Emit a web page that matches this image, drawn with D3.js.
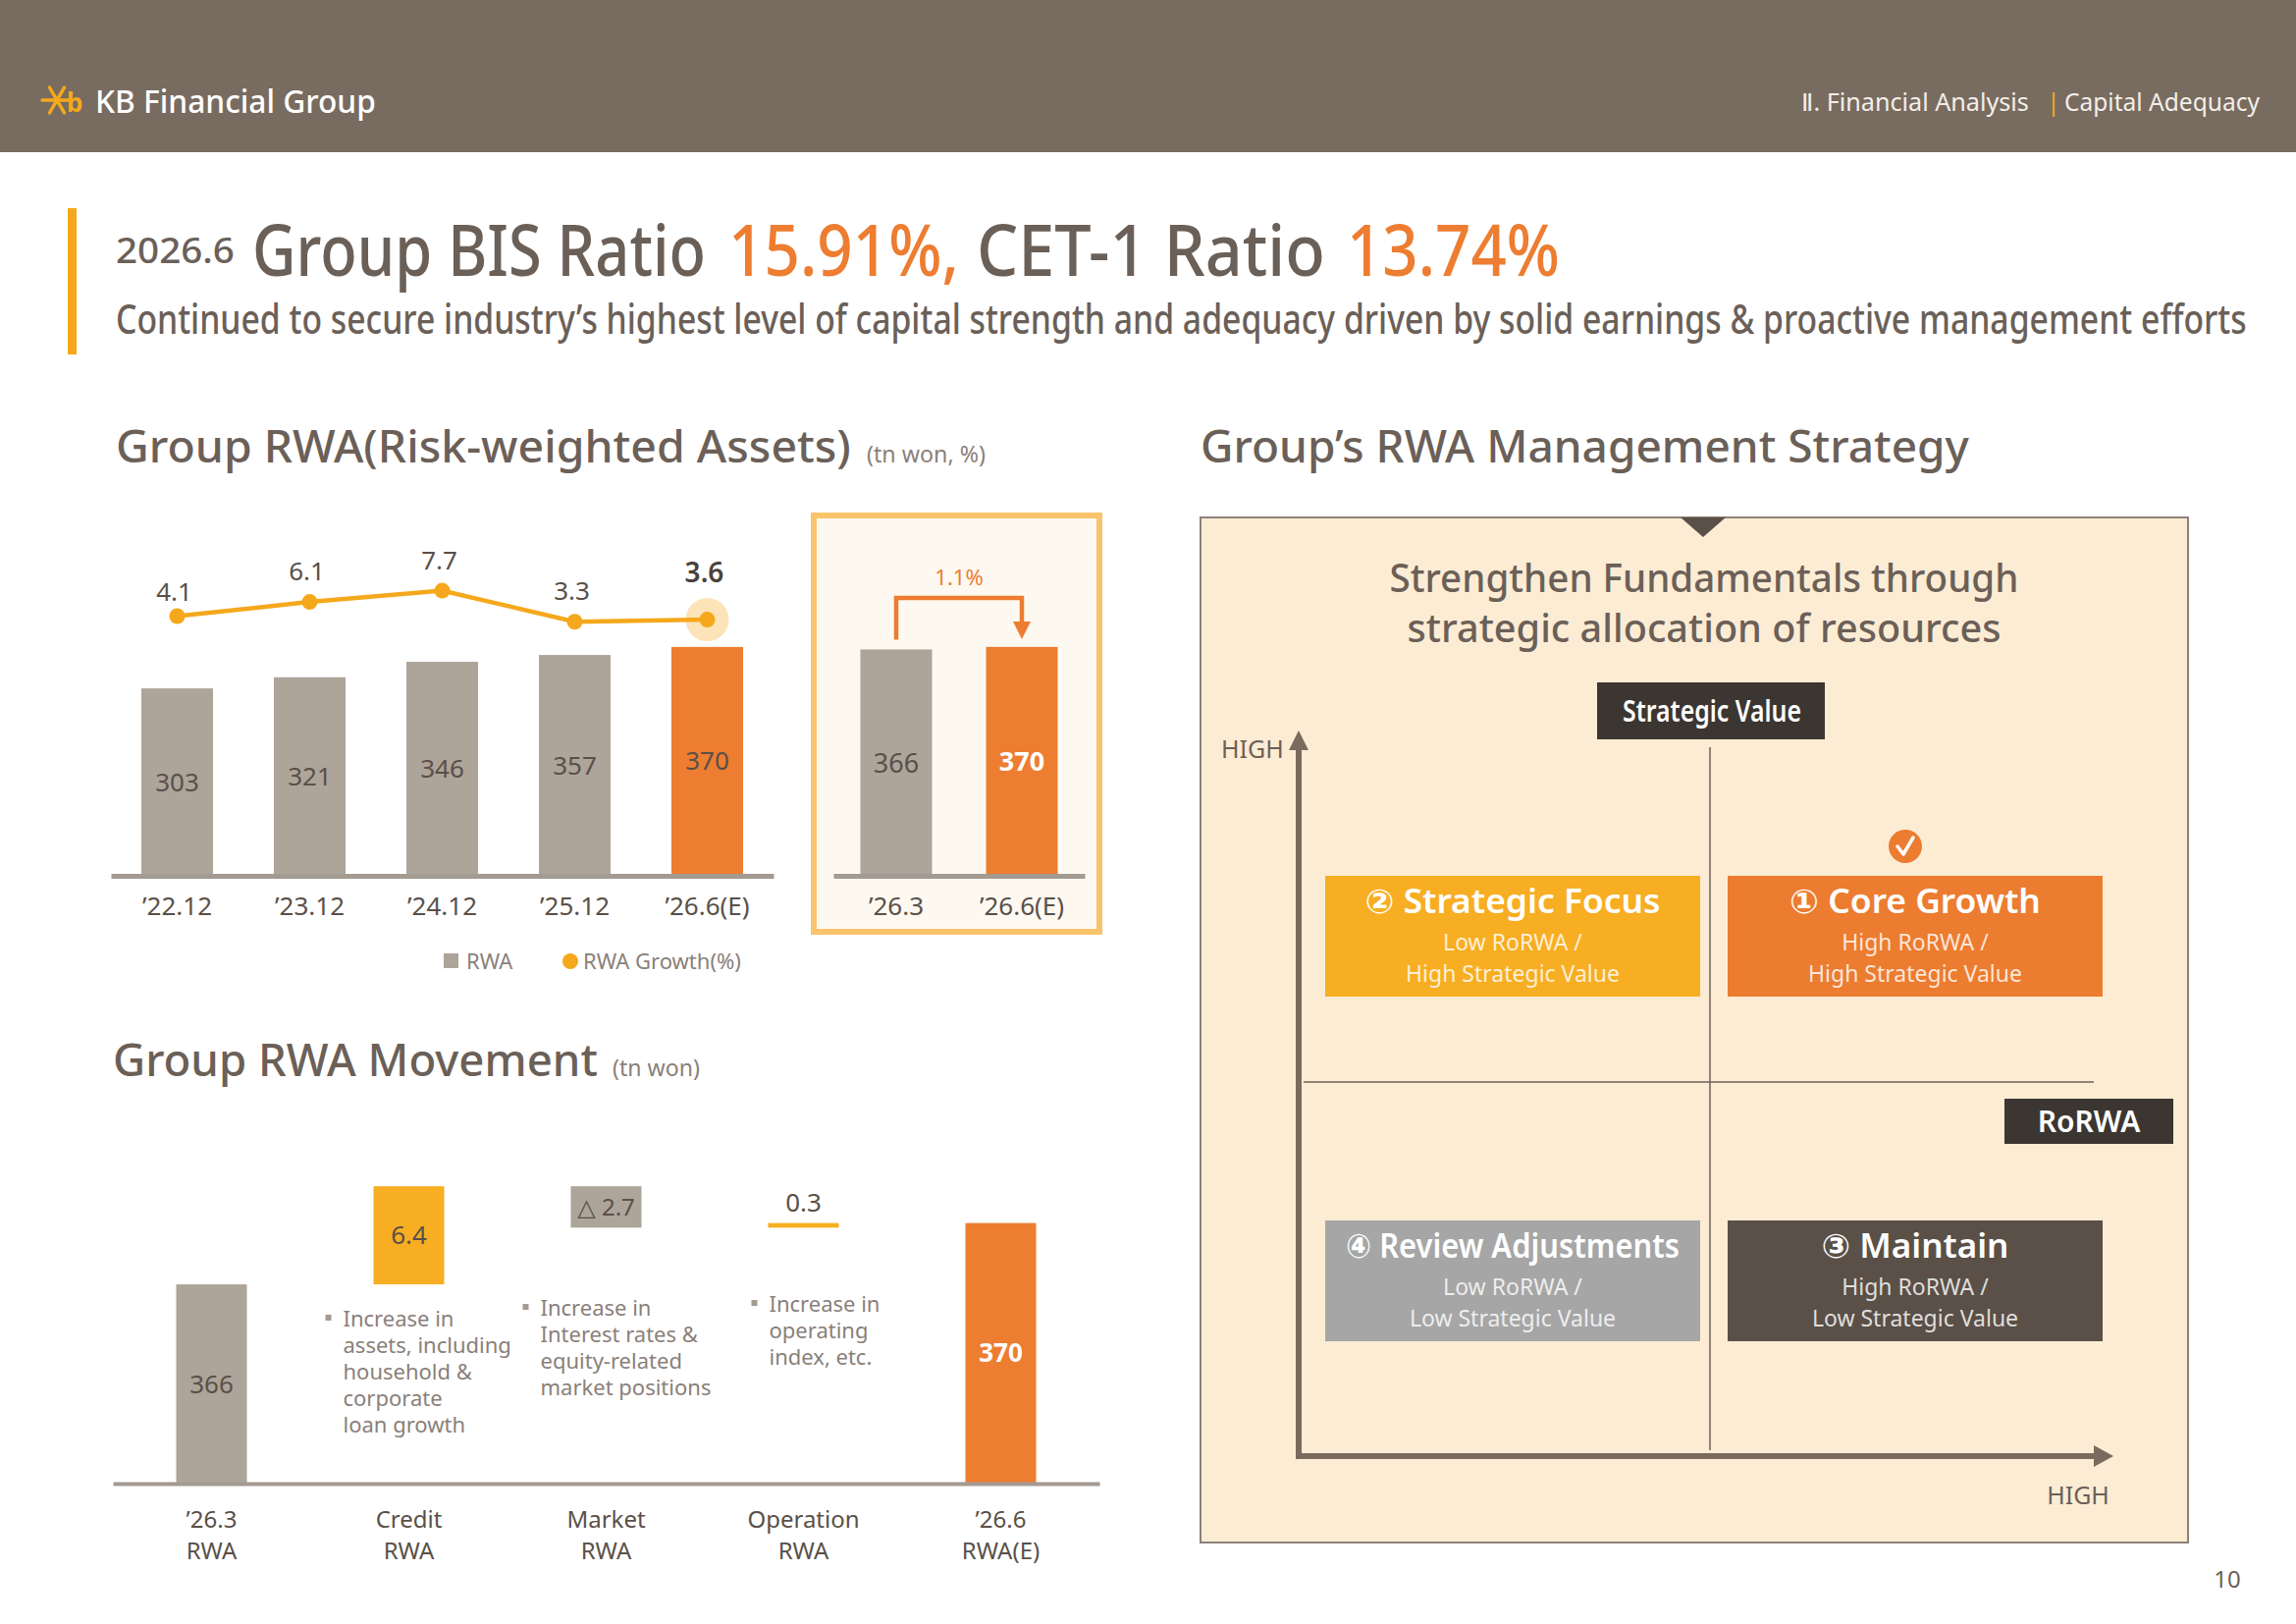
<!DOCTYPE html>
<html><head><meta charset="utf-8">
<script src="https://cdn.jsdelivr.net/npm/d3@7"></script>
<style>body{margin:0;background:#fff}svg{display:block}</style>
</head><body>
<svg id="c" width="2339" height="1654"></svg>
<script>
// ---------- data ----------
const rwaCategories = ["’22.12","’23.12","’24.12","’25.12","’26.6(E)"];
const rwaValues = [303,321,346,357,370];
const rwaGrowth = [4.1,6.1,7.7,3.3,3.6];
const qoqCategories = ["’26.3","’26.6(E)"];
const qoqValues = [366,370];
const qoqGrowthPct = 1.1;
const wfCategories = ["’26.3\nRWA","Credit\nRWA","Market\nRWA","Operation\nRWA","’26.6\nRWA(E)"];
const wfStart = 366;
const wfChanges = [6.4,-2.7,0.3];
const wfEnd = 370;
const wfNotes = [[],["Increase in","assets, including","household &","corporate","loan growth"],["Increase in","Interest rates &","equity-related","market positions"],["Increase in","operating","index, etc."],[]];
const quadTitles = ["② Strategic Focus","① Core Growth","④ Review Adjustments","③ Maintain"];
const quadSubs = [["Low RoRWA /","High Strategic Value"],["High RoRWA /","High Strategic Value"],["Low RoRWA /","Low Strategic Value"],["High RoRWA /","Low Strategic Value"]];

// ---------- style ----------
const F = "'Noto Sans','Open Sans','DejaVu Sans',sans-serif";
const C = {band:"#786b5f", text:"#6b6058", dark:"#5a5048", light:"#8a8079", gray:"#ada49a",
  orange:"#ed7d31", yellow:"#f5a81c", yellow2:"#f7ae22", axis:"#a39a91"};
const svg = d3.select("#c");

// text helper; o.tl = target width -> horizontal scale so the box really has that width
function txt(p, x, y, s, o={}) {
  const holder = o.tl ? p.append("g") : p;
  const t = holder.append("text").attr("x",o.tl?0:x).attr("y",o.tl?0:y).text(s)
    .attr("font-family",F).attr("font-size",o.size||24).attr("fill",o.fill||C.text)
    .attr("text-anchor",o.anchor||"start");
  if (o.weight) t.attr("font-weight",o.weight);
  if (o.tl) {
    const w = t.node().getComputedTextLength() || o.tl;
    holder.attr("transform",`translate(${x},${y}) scale(${(o.tl/w).toFixed(4)},1)`);
  }
  return t;
}

// ---------- header ----------
svg.append("rect").attr("x",0).attr("y",0).attr("width",2339).attr("height",155).attr("fill",C.band);
const logo = svg.append("g").attr("transform","translate(58,102)");
[0,60,120].forEach(a=>{
  const r=a*Math.PI/180;
  logo.append("line").attr("x1",-15*Math.cos(r)).attr("y1",-15*Math.sin(r))
    .attr("x2",15*Math.cos(r)).attr("y2",15*Math.sin(r))
    .attr("stroke",C.yellow).attr("stroke-width",3.5).attr("stroke-linecap","round");
});
txt(logo,10,12,"b",{size:26,fill:C.yellow,weight:700});
txt(svg,97,115,"KB Financial Group",{size:33,fill:"#ffffff",weight:500,tl:286});
txt(svg,1835,113,"Ⅱ. Financial Analysis",{size:25,fill:"#f3efe9",tl:232});
txt(svg,2085,113,"|",{size:25,fill:C.yellow});
txt(svg,2103,113,"Capital Adequacy",{size:25,fill:"#f3efe9",tl:199});

// ---------- headline ----------
svg.append("rect").attr("x",69).attr("y",212).attr("width",9).attr("height",149).attr("fill",C.yellow);
txt(svg,118,268,"2026.6",{size:36,fill:C.text,weight:500,tl:121});
txt(svg,257,281,"Group BIS Ratio",{size:72,fill:C.text,weight:500,tl:462});
txt(svg,742,281,"15.91%,",{size:72,fill:C.orange,weight:500,tl:235});
txt(svg,995,281,"CET-1 Ratio",{size:72,fill:C.text,weight:500,tl:355});
txt(svg,1372,281,"13.74%",{size:72,fill:C.orange,weight:500,tl:217});
txt(svg,118,340,"Continued to secure industry’s highest level of capital strength and adequacy driven by solid earnings & proactive management efforts",{size:42,fill:C.text,weight:500,tl:2172});

// ---------- section titles ----------
txt(svg,118,471,"Group RWA(Risk-weighted Assets)",{size:46,fill:C.text,weight:500,tl:749});
txt(svg,883,471,"(tn won, %)",{size:24,fill:C.light,tl:121});
txt(svg,1223,471,"Group’s RWA Management Strategy",{size:46,fill:C.text,weight:500,tl:783});
txt(svg,115,1096,"Group RWA Movement",{size:46,fill:C.text,weight:500,tl:494});
txt(svg,624,1096,"(tn won)",{size:24,fill:C.light,tl:89});

// ---------- left bar + line chart ----------
const x1 = d3.scaleBand().domain(rwaCategories).range([113,788]);
const y1 = d3.scaleLinear().domain([0,400]).range([892,640]);
const g1 = d3.scaleLinear().domain([0,10]).range([657,585]);
const barW = 73;
const cx1 = d => x1(d) + x1.bandwidth()/2;
const chart1 = svg.append("g");
chart1.selectAll("rect.bar").data(rwaValues).join("rect").attr("class","bar")
  .attr("x",(d,i)=>cx1(rwaCategories[i])-barW/2).attr("y",d=>y1(d))
  .attr("width",barW).attr("height",d=>y1(0)-y1(d))
  .attr("fill",(d,i)=>i===rwaValues.length-1?C.orange:C.gray);
chart1.selectAll("text.bv").data(rwaValues).join("text").attr("class","bv")
  .attr("x",(d,i)=>cx1(rwaCategories[i])).attr("y",d=>(y1(d)+y1(0))/2+9)
  .attr("text-anchor","middle").attr("font-family",F).attr("font-size",26).attr("fill",C.dark).text(d=>d);
const ax1 = chart1.append("g").attr("transform","translate(0,892)")
  .call(d3.axisBottom(x1).tickSize(0).tickPadding(22));
ax1.select(".domain").attr("stroke",C.axis).attr("stroke-width",5);
ax1.selectAll("text").attr("font-family",F).attr("font-size",26).attr("fill",C.dark);

const last = rwaGrowth.length-1;
chart1.append("circle").attr("cx",cx1(rwaCategories[last])).attr("cy",g1(rwaGrowth[last])).attr("r",22).attr("fill","#fce3b8");
chart1.append("path").datum(rwaGrowth)
  .attr("d",d3.line().x((d,i)=>cx1(rwaCategories[i])).y(d=>g1(d)))
  .attr("fill","none").attr("stroke",C.yellow).attr("stroke-width",4.5);
chart1.selectAll("circle.pt").data(rwaGrowth).join("circle").attr("class","pt")
  .attr("cx",(d,i)=>cx1(rwaCategories[i])).attr("cy",d=>g1(d)).attr("r",8).attr("fill",C.yellow);
chart1.selectAll("text.gv").data(rwaGrowth).join("text").attr("class","gv")
  .attr("x",(d,i)=>cx1(rwaCategories[i])-3).attr("y",(d,i)=>g1(d)-(i===last?38:(i===0?15:22)))
  .attr("text-anchor","middle").attr("font-family",F).attr("font-size",(d,i)=>i===last?28:26)
  .attr("font-weight",(d,i)=>i===last?600:400)
  .attr("fill",(d,i)=>i===last?"#4a423b":C.dark).text(d=>d.toFixed(1));

// legend
svg.append("rect").attr("x",452).attr("y",971).attr("width",15).attr("height",15).attr("fill",C.gray);
txt(svg,475,987,"RWA",{size:22,fill:C.light});
svg.append("circle").attr("cx",581).attr("cy",979).attr("r",8).attr("fill",C.yellow);
txt(svg,594,987,"RWA Growth(%)",{size:22,fill:C.light});

// ---------- QoQ highlight box ----------
svg.append("rect").attr("x",829).attr("y",525).attr("width",291).attr("height",424)
  .attr("fill","#fdf9f1").attr("stroke","#f9c46b").attr("stroke-width",6);
const x2 = d3.scaleBand().domain(qoqCategories).range([849,1105]);
const cx2 = d => x2(d) + x2.bandwidth()/2;
const chart2 = svg.append("g");
chart2.selectAll("rect").data(qoqValues).join("rect")
  .attr("x",(d,i)=>cx2(qoqCategories[i])-barW/2).attr("y",d=>y1(d))
  .attr("width",barW).attr("height",d=>y1(0)-y1(d))
  .attr("fill",(d,i)=>i===1?C.orange:C.gray);
chart2.selectAll("text.qv").data(qoqValues).join("text").attr("class","qv")
  .attr("x",(d,i)=>cx2(qoqCategories[i])).attr("y",d=>(y1(d)+y1(0))/2+10)
  .attr("text-anchor","middle").attr("font-family",F).attr("font-size",27)
  .attr("font-weight",(d,i)=>i===1?700:400)
  .attr("fill",(d,i)=>i===1?"#ffffff":C.dark).text(d=>d);
const ax2 = chart2.append("g").attr("transform","translate(0,892)")
  .call(d3.axisBottom(x2).tickSize(0).tickPadding(22));
ax2.select(".domain").attr("stroke",C.axis).attr("stroke-width",5);
ax2.selectAll("text").attr("font-family",F).attr("font-size",26).attr("fill",C.dark);
// growth arrow
const arrTop = y1(d3.max(qoqValues)) - 50;
const xa = cx2(qoqCategories[0]), xb = cx2(qoqCategories[1]);
chart2.append("path")
  .attr("d",`M${xa},${y1(qoqValues[0])-10}V${arrTop}H${xb}V${y1(qoqValues[1])-24}`)
  .attr("fill","none").attr("stroke",C.orange).attr("stroke-width",4.5);
chart2.append("path")
  .attr("d",`M${xb-9},${y1(qoqValues[1])-26}L${xb+9},${y1(qoqValues[1])-26}L${xb},${y1(qoqValues[1])-8}Z`)
  .attr("fill",C.orange);
txt(chart2,(xa+xb)/2,arrTop-13,qoqGrowthPct.toFixed(1)+"%",{size:22,fill:C.orange,anchor:"middle"});

// ---------- waterfall ----------
const x3 = d3.scaleBand().domain(wfCategories).range([115,1120]);
const y3 = d3.scaleLinear().domain([353,373.5]).range([1511,1191]);
const cx3 = d => x3(d) + x3.bandwidth()/2;
const base = y3.domain()[0];
const steps = [];
steps.push({lo:base, hi:wfStart, fill:C.gray, label:String(wfStart), kind:"start"});
let cum = wfStart;
const chFill = [C.yellow2, C.gray, C.yellow2];
wfChanges.forEach((c,i)=>{
  steps.push({lo:Math.min(cum,cum+c), hi:Math.max(cum,cum+c), fill:chFill[i],
    label: c<0 ? "△ "+Math.abs(c).toFixed(1) : c.toFixed(1), kind: i===2?"above":"inside"});
  cum += c;
});
steps.push({lo:base, hi:wfEnd, fill:C.orange, label:String(wfEnd), kind:"end"});
const wfW = 72;
const chart3 = svg.append("g");
chart3.selectAll("rect").data(steps).join("rect")
  .attr("x",(d,i)=>cx3(wfCategories[i])-wfW/2).attr("y",d=>y3(d.hi))
  .attr("width",wfW).attr("height",d=>y3(d.lo)-y3(d.hi)).attr("fill",d=>d.fill);
chart3.selectAll("text.wv").data(steps).join("text").attr("class","wv")
  .attr("x",(d,i)=>cx3(wfCategories[i]))
  .attr("y",d=>d.kind==="above" ? y3(d.hi)-12 : (y3(d.hi)+y3(d.lo))/2+9)
  .attr("text-anchor","middle").attr("font-family",F).attr("font-size",d=>d.label.length>4?24:26)
  .attr("font-weight",d=>d.kind==="end"?700:400)
  .attr("fill",d=>d.kind==="end"?"#ffffff":C.dark).text(d=>d.label);
const ax3 = chart3.append("g").attr("transform","translate(0,1511)")
  .call(d3.axisBottom(x3).tickSize(0).tickPadding(28));
ax3.select(".domain").attr("stroke",C.axis).attr("stroke-width",4);
ax3.selectAll("text").attr("font-family",F).attr("font-size",24).attr("fill",C.dark).attr("dy",null)
  .each(function(d){
    const t=d3.select(this); t.text(null);
    d.split("\n").forEach((l,i)=>t.append("tspan").attr("x",0).attr("dy",i?"1.33em":"0.71em").text(l));
  });
// notes
const noteDx = [0,-82,-82,-50,0];
const noteY = [0,1351,1340,1336,0];
wfNotes.forEach((lines,i)=>{
  if(!lines.length) return;
  const nx = cx3(wfCategories[i]) + noteDx[i];
  chart3.append("rect").attr("x",nx-3).attr("y",noteY[i]-12).attr("width",6).attr("height",6).attr("fill","#a39a91");
  lines.forEach((l,j)=>txt(chart3,nx+15,noteY[i]+j*27,l,{size:22,fill:C.light}));
});

// ---------- strategy panel ----------
const P = svg.append("g");
P.append("rect").attr("x",1223).attr("y",527).attr("width",1006).attr("height",1044)
  .attr("fill","#fdecd4").attr("stroke","#8c8178").attr("stroke-width",2);
P.append("path").attr("d","M1712,527L1758,527L1735,547Z").attr("fill",C.dark);
txt(P,1736,603,"Strengthen Fundamentals through",{size:40,fill:C.text,weight:500,anchor:"middle",tl:641});
txt(P,1736,654,"strategic allocation of resources",{size:40,fill:C.text,weight:500,anchor:"middle",tl:605});
// dividers
P.append("line").attr("x1",1742).attr("x2",1742).attr("y1",761).attr("y2",1477).attr("stroke",C.text).attr("stroke-width",1.5);
P.append("line").attr("x1",1328).attr("x2",2133).attr("y1",1102).attr("y2",1102).attr("stroke",C.text).attr("stroke-width",1.5);
// axes
P.append("line").attr("x1",1323).attr("x2",1323).attr("y1",1486).attr("y2",760).attr("stroke","#7a6b5e").attr("stroke-width",6);
P.append("path").attr("d","M1313,764L1333,764L1323,744Z").attr("fill","#7a6b5e");
P.append("line").attr("x1",1320).attr("x2",2136).attr("y1",1483).attr("y2",1483).attr("stroke","#7a6b5e").attr("stroke-width",6);
P.append("path").attr("d","M2133,1472L2133,1494L2153,1483Z").attr("fill","#7a6b5e");
txt(P,1244,772,"HIGH",{size:25,fill:C.text});
txt(P,2117,1532,"HIGH",{size:25,fill:C.text,anchor:"middle"});
// axis label boxes
P.append("rect").attr("x",1627).attr("y",695).attr("width",232).attr("height",58).attr("fill","#3b3631");
txt(P,1744,735,"Strategic Value",{size:30,fill:"#ffffff",weight:600,anchor:"middle",tl:182});
P.append("rect").attr("x",2042).attr("y",1119).attr("width",172).attr("height",46).attr("fill","#3b3631");
txt(P,2128,1153,"RoRWA",{size:30,fill:"#ffffff",weight:600,anchor:"middle"});
// quadrant boxes
const qBox = [{x:1350,y:892,fill:C.yellow2,tl:301},{x:1760,y:892,fill:"#ec7c30",tl:256},
              {x:1350,y:1243,fill:"#a6a6a6",tl:340},{x:1760,y:1243,fill:"#5a5048",tl:191}];
qBox.forEach((b,i)=>{
  P.append("rect").attr("x",b.x).attr("y",b.y).attr("width",382).attr("height",123).attr("fill",b.fill);
  const mx = b.x+191;
  txt(P,mx,b.y+38,quadTitles[i],{size:34,fill:"#ffffff",weight:600,anchor:"middle",tl:b.tl});
  txt(P,mx,b.y+76,quadSubs[i][0],{size:23,fill:"rgba(255,255,255,0.82)",anchor:"middle"});
  txt(P,mx,b.y+108,quadSubs[i][1],{size:23,fill:"rgba(255,255,255,0.82)",anchor:"middle"});
});
// check mark
P.append("circle").attr("cx",1941).attr("cy",862).attr("r",17).attr("fill","#ec7c30");
P.append("path").attr("d","M1933,862L1939,870L1949,853").attr("fill","none").attr("stroke","#fff").attr("stroke-width",3.5).attr("stroke-linecap","round").attr("stroke-linejoin","round");

// page number
txt(svg,2269,1617,"10",{size:24,fill:C.text,anchor:"middle"});
</script>
</body></html>
